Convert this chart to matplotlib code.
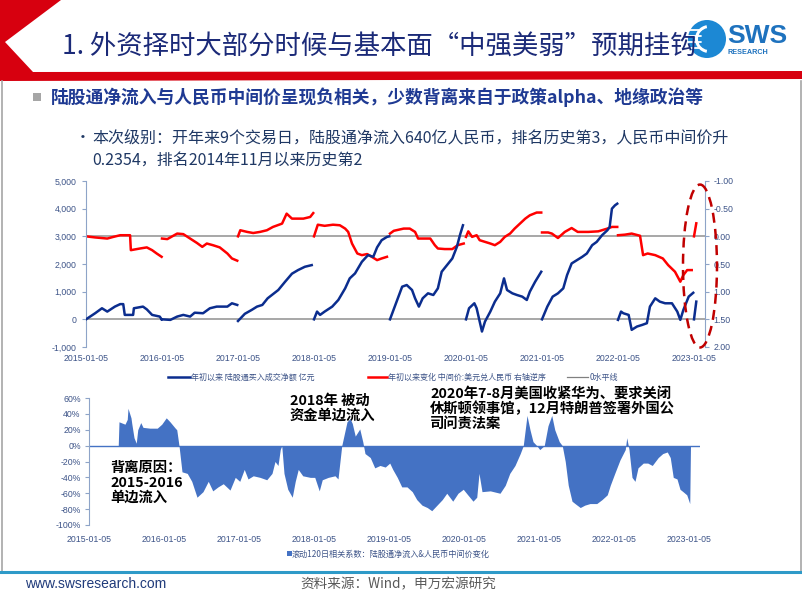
import numpy as np
import matplotlib
matplotlib.use('Agg')
import matplotlib.pyplot as plt
from matplotlib.patches import Polygon, Ellipse, Rectangle, Circle, Wedge

plt.rcParams['font.family'] = ['Noto Sans CJK SC', 'DejaVu Sans']

nan = np.nan
# ---------------- data (time as decimal year) ----------------
# YTD northbound (陆股通) net buy, 亿元 ; NaN separates calendar years
flow_t = [2015.00, 2015.12, 2015.21, 2015.28, 2015.38, 2015.45, 2015.49, 2015.51, 2015.62, 2015.63, 2015.75, 2015.80, 2015.87, 2015.97, 2015.995, nan,
          2016.00, 2016.11, 2016.20, 2016.28, 2016.37, 2016.43, 2016.54, 2016.63, 2016.72, 2016.86, 2016.92, 2016.99, nan,
          2017.00, 2017.09, 2017.18, 2017.25, 2017.32, 2017.39, 2017.53, 2017.62, 2017.71, 2017.79, 2017.88, 2017.97, nan,
          2018.00, 2018.04, 2018.08, 2018.14, 2018.24, 2018.32, 2018.41, 2018.47, 2018.54, 2018.63, 2018.71, 2018.78, 2018.83, 2018.89, 2018.96, 2018.99, nan,
          2019.00, 2019.07, 2019.16, 2019.22, 2019.29, 2019.33, 2019.38, 2019.43, 2019.50, 2019.57, 2019.63, 2019.68, 2019.75, 2019.82, 2019.88, 2019.92, 2019.96, nan,
          2020.00, 2020.04, 2020.11, 2020.14, 2020.16, 2020.21, 2020.25, 2020.32, 2020.38, 2020.45, 2020.50, 2020.54, 2020.61, 2020.67, 2020.74, 2020.80, 2020.84, 2020.91, 2020.99, nan,
          2021.00, 2021.07, 2021.14, 2021.21, 2021.28, 2021.33, 2021.39, 2021.46, 2021.53, 2021.59, 2021.66, 2021.72, 2021.79, 2021.86, 2021.89, 2021.92, 2021.96, 2021.99, nan,
          2022.00, 2022.04, 2022.07, 2022.14, 2022.18, 2022.25, 2022.32, 2022.38, 2022.42, 2022.49, 2022.55, 2022.62, 2022.71, 2022.78, 2022.82, 2022.86, 2022.93, 2022.99, nan,
          2023.00, 2023.03]
flow_v = [0, 220, 400, 280, 460, 550, 550, 160, 160, 400, 460, 360, 160, 100, 0, nan,
          0, -20, 100, 160, 100, 240, 220, 400, 460, 460, 580, 520, nan,
          -60, 200, 340, 460, 520, 760, 1060, 1360, 1650, 1780, 1900, 1960, nan,
          0, 280, 160, 280, 460, 700, 1120, 1480, 1660, 2080, 2320, 2260, 2600, 2860, 2980, 3000, nan,
          0, 520, 1180, 1240, 1060, 760, 460, 760, 940, 880, 1120, 1720, 1960, 2200, 2620, 3040, 3400, nan,
          0, 400, 580, 400, 160, -440, -80, 280, 640, 940, 1480, 1060, 940, 880, 820, 700, 1000, 1360, 1720, nan,
          0, 460, 820, 940, 1120, 1600, 2020, 2140, 2260, 2380, 2680, 2800, 3040, 3220, 3340, 4000, 4120, 4180, nan,
          -20, 280, 220, 160, -380, -260, -200, -140, 460, 760, 640, 580, 580, 280, -20, 340, 820, 960, nan,
          0, 640]

# YTD change of USD/CNY central parity (right axis, reversed)
cny_t = [2015.00, 2015.12, 2015.28, 2015.36, 2015.45, 2015.58, 2015.59, 2015.71, 2015.80, 2015.87, 2015.93, 2015.995, nan,
         2016.00, 2016.07, 2016.20, 2016.28, 2016.37, 2016.46, 2016.53, 2016.59, 2016.67, 2016.76, 2016.86, 2016.92, 2016.99, nan,
         2017.00, 2017.03, 2017.12, 2017.20, 2017.29, 2017.38, 2017.46, 2017.58, 2017.64, 2017.71, 2017.78, 2017.86, 2017.95, 2017.99, nan,
         2018.00, 2018.05, 2018.14, 2018.25, 2018.34, 2018.41, 2018.45, 2018.50, 2018.57, 2018.63, 2018.70, 2018.76, 2018.83, 2018.89, 2018.96, nan,
         2019.00, 2019.05, 2019.18, 2019.26, 2019.33, 2019.37, 2019.53, 2019.59, 2019.63, 2019.72, 2019.82, 2019.86, 2019.89, 2019.97, nan,
         2020.00, 2020.03, 2020.08, 2020.14, 2020.18, 2020.25, 2020.32, 2020.38, 2020.45, 2020.51, 2020.58, 2020.64, 2020.71, 2020.78, 2020.84, 2020.93, 2020.99, nan,
         2021.00, 2021.08, 2021.13, 2021.21, 2021.30, 2021.39, 2021.47, 2021.61, 2021.74, 2021.86, 2021.92, 2021.99, nan,
         2022.00, 2022.09, 2022.18, 2022.29, 2022.33, 2022.39, 2022.49, 2022.59, 2022.66, 2022.75, 2022.82, 2022.86, 2022.91, 2022.97, nan,
         2023.00, 2023.03]
cny_v = [0, 0.02, 0.04, 0.01, -0.02, -0.02, 0.25, 0.22, 0.20, 0.25, 0.31, 0.37, nan,
         0.04, 0.05, -0.05, -0.04, 0.04, 0.12, 0.19, 0.13, 0.16, 0.20, 0.31, 0.40, 0.44, nan,
         0.0, -0.11, -0.08, -0.06, -0.08, -0.11, -0.17, -0.23, -0.41, -0.32, -0.32, -0.32, -0.35, -0.42, nan,
         0.0, -0.21, -0.19, -0.21, -0.20, -0.14, -0.08, 0.13, 0.31, 0.34, 0.32, 0.37, 0.43, 0.40, 0.37, nan,
         -0.05, -0.10, -0.14, -0.14, -0.08, 0.04, 0.04, 0.16, 0.22, 0.23, 0.23, 0.19, 0.16, 0.13, nan,
         0.01, -0.09, 0.01, -0.02, 0.07, 0.10, 0.13, 0.16, 0.10, 0.01, -0.05, -0.14, -0.23, -0.32, -0.38, -0.43, -0.43, nan,
         -0.07, -0.07, -0.05, 0.03, -0.08, -0.15, -0.08, -0.08, -0.09, -0.14, -0.17, -0.17, nan,
         -0.02, -0.03, -0.05, -0.01, 0.34, 0.31, 0.34, 0.40, 0.52, 0.64, 0.82, 0.70, 0.61, 0.61, nan,
         0.0, -0.2354]

# rolling 120-day correlation (%)
corr_t = [2015.00, 2015.39, 2015.40, 2015.48, 2015.51, 2015.52, 2015.56, 2015.57, 2015.60, 2015.63, 2015.65, 2015.69, 2015.72, 2015.81, 2015.91, 2015.97,
          2016.03, 2016.08, 2016.15, 2016.17, 2016.20, 2016.24, 2016.31, 2016.37, 2016.44, 2016.52, 2016.59, 2016.65, 2016.72, 2016.79, 2016.88, 2016.95,
          2017.01, 2017.07, 2017.12, 2017.19, 2017.28, 2017.37, 2017.44, 2017.48, 2017.52, 2017.55, 2017.57, 2017.60, 2017.65, 2017.71, 2017.75, 2017.79, 2017.85, 2017.95,
          2018.01, 2018.07, 2018.11, 2018.19, 2018.28, 2018.32, 2018.37, 2018.44, 2018.48, 2018.51, 2018.55, 2018.61, 2018.65, 2018.68, 2018.75, 2018.81, 2018.88, 2018.95,
          2019.01, 2019.05, 2019.11, 2019.17, 2019.24, 2019.31, 2019.37, 2019.44, 2019.51, 2019.57, 2019.64, 2019.71, 2019.77, 2019.81, 2019.85, 2019.92, 2019.99,
          2020.05, 2020.12, 2020.17, 2020.20, 2020.24, 2020.35, 2020.48, 2020.55, 2020.61, 2020.68, 2020.75, 2020.79, 2020.84, 2020.88, 2020.92, 2020.97,
          2021.01, 2021.07, 2021.12, 2021.17, 2021.21, 2021.27, 2021.31, 2021.35, 2021.39, 2021.44, 2021.48, 2021.55, 2021.61, 2021.68, 2021.77, 2021.84, 2021.91, 2021.95,
          2022.01, 2022.08, 2022.15, 2022.17, 2022.20, 2022.24, 2022.28, 2022.32, 2022.39, 2022.45, 2022.51, 2022.59, 2022.65, 2022.71, 2022.75, 2022.79, 2022.84, 2022.88, 2022.92, 2022.97,
          2023.01, 2023.02, 2023.147]
corr_v = [0, 0, 30, 27, 33, 47, 35, 28, 10, 3, 20, 29, 23, 22, 22, 27,
          35, 30, 22, 20, 0, -33, -35, -45, -65, -58, -45, -57, -52, -48, -56, -40,
          -45, -30, -42, -38, -40, -43, -35, -20, -25, -5, 0, -35, -55, -65, -45, -30, -38, -40,
          -40, -57, -43, -40, -38, -42, 0, 30, 34, 28, 12, 21, 5, -10, -15, -28, -25, -27,
          -22, -30, -40, -52, -52, -58, -68, -75, -78, -82, -75, -68, -60, -65, -70, -60, -55,
          -62, -70, -65, -35, -58, -57, -60, -50, -35, -25, -10, 0, 38, 20, 5, 0,
          -5, 0, 25, 38, 20, 5, 0, -20, -50, -70, -73, -78, -75, -73, -73, -68, -62, -50,
          -35, -18, -5, 10, -5, -40, -45, -28, -22, -22, -25, -15, -10, -8, -15, -40, -42, -55, -58, -62,
          -73, 0, 0]

years = list(range(2015, 2024))
year_labels = [f"{y}-01-05" for y in years]
left_ticks = [-1000, 0, 1000, 2000, 3000, 4000, 5000]
right_ticks = [-1.0, -0.5, 0.0, 0.5, 1.0, 1.5, 2.0]
corr_ticks = [-100, -80, -60, -40, -20, 0, 20, 40, 60]

W, H = 802, 602
fig = plt.figure(figsize=(W / 100, H / 100), dpi=100)
fig.patch.set_facecolor('white')

# --- decoration layer in pixel coordinates ---
deco = fig.add_axes([0, 0, 1, 1], zorder=-5)
deco.set_xlim(0, W)
deco.set_ylim(H, 0)
deco.axis('off')

red = '#D7000F'
deco.add_patch(Polygon([(0, 0), (61, 0), (5, 42), (33, 72), (802, 71), (802, 79), (0, 81)],
                       closed=True, facecolor=red, edgecolor='none'))
# slide side borders and footer line
deco.plot([1.5, 1.5], [81, 572], color='#A6A6A6', lw=1.2)
deco.plot([800.5, 800.5], [81, 572], color='#A6A6A6', lw=1.2)
deco.plot([0, 802], [572, 572], color='#2E9AC8', lw=2.2)

# logo
deco.add_patch(Circle((707, 39), 19, facecolor='#1C88D4', edgecolor='none'))
deco.add_patch(Wedge((709, 39), 14, 100, 260, width=3, facecolor='white', edgecolor='none'))
for yy, x0, ln in [(30, 689, 12), (36, 687, 14), (42, 687, 14), (48, 689, 12)]:
    deco.plot([x0, x0 + ln], [yy, yy], color='white', lw=1.3, solid_capstyle='round')
deco.text(727, 36, 'SWS', family=['Liberation Sans', 'DejaVu Sans'], fontweight='bold',
          fontsize=19, color='#1E72BE', va='center', ha='left')
deco.text(728, 53, 'RESEARCH', family=['Liberation Sans', 'DejaVu Sans'], fontweight='bold',
          fontsize=5.2, color='#1E72BE', va='center', ha='left')

# titles
deco.text(62, 47, '1. 外资择时大部分时候与基本面“中强美弱”预期挂钩', fontsize=19,
          color='#1B2A78', va='center', ha='left', zorder=3)
deco.add_patch(Rectangle((33, 93), 8, 8, facecolor='#A6A6A6', edgecolor='none'))
deco.text(51, 97, '陆股通净流入与人民币中间价呈现负相关，少数背离来自于政策alpha、地缘政治等',
          fontsize=12.8, fontweight='bold', color='#1F3A93', va='center', ha='left')
deco.text(75, 138, '•', fontsize=11.5, color='#1F3864', va='center', ha='left')
deco.text(92, 138, '本次级别：开年来9个交易日，陆股通净流入640亿人民币，排名历史第3，人民币中间价升',
          fontsize=11.5, color='#1F3864', va='center', ha='left')
deco.text(92, 160, '0.2354，排名2014年11月以来历史第2',
          fontsize=11.5, color='#1F3864', va='center', ha='left')

# footer
deco.text(25, 584, 'www.swsresearch.com', family=['Liberation Sans', 'DejaVu Sans'], fontsize=10,
          color='#1F3A7A', va='center', ha='left')
deco.text(300, 584, '资料来源：Wind，申万宏源研究', fontsize=9.8, color='#595959',
          va='center', ha='left')

tick_col = '#3D5488'
spine_col = '#8EA4C8'
num_font = ['Liberation Sans', 'DejaVu Sans']

# ---------------- top chart ----------------
ax1 = fig.add_axes([86 / W, 1 - 347 / H, 619 / W, 166 / H])
ax1.set_facecolor('none')
ax1.set_xlim(2015, 2015 + 619 / 76)
ax1.set_ylim(-1000, 5000)
axr = ax1.twinx()
axr.set_ylim(2.0, -1.0)

ax1.axhline(0, color='#A0A0A0', lw=1.3, zorder=1)
axr.axhline(0, color='#A0A0A0', lw=1.3, zorder=1)
axr.plot(cny_t, cny_v, color='#FF0000', lw=1.8, zorder=3)
ax1.plot(flow_t, flow_v, color='#0B2D8E', lw=1.8, zorder=4)
ax1.set_zorder(axr.get_zorder() + 1)

for a in (ax1, axr):
    for s in ('top', 'bottom'):
        a.spines[s].set_visible(False)
ax1.spines['right'].set_visible(False)
axr.spines['left'].set_visible(False)
ax1.spines['left'].set_color(spine_col)
axr.spines['right'].set_color(spine_col)

ax1.set_yticks(left_ticks)
ax1.set_yticklabels([f"{v:,}" for v in left_ticks], family=num_font)
axr.set_yticks(right_ticks)
axr.set_yticklabels([f"{v:.2f}" for v in right_ticks], family=num_font)
ax1.set_xticks(years)
ax1.set_xticklabels(year_labels, family=num_font)
ax1.tick_params(axis='y', labelsize=6.3, colors=tick_col, length=3, color=spine_col, pad=4)
axr.tick_params(axis='y', labelsize=6.3, colors=tick_col, length=3, color=spine_col, pad=3)
ax1.tick_params(axis='x', labelsize=6.3, colors=tick_col, length=0, pad=5)

# legend (top)
def leg_line(x0, x1, y, color, lw):
    deco.plot([x0, x1], [y, y], color=color, lw=lw)

leg_line(168, 190, 377, '#0B2D8E', 1.8)
deco.text(191, 377, '年初以来 陆股通买入成交净额 亿元', fontsize=5.8, color=tick_col, va='center', ha='left')
leg_line(368, 387, 377, '#FF0000', 1.8)
deco.text(388, 377, '年初以来变化 中间价:美元兑人民币 右轴逆序', fontsize=5.8, color=tick_col, va='center', ha='left')
leg_line(567, 588, 377, '#808080', 0.9)
deco.text(590, 377, '0水平线', fontsize=5.8, color=tick_col, va='center', ha='left')

# dashed ellipse highlight
ell = Ellipse((700, 266), 34, 163, fill=False, edgecolor='#C00000', lw=1.8,
              linestyle=(0, (4, 2.5)), transform=deco.transData, zorder=20)
fig.add_artist(ell)

# ---------------- bottom chart ----------------
ax2 = fig.add_axes([89 / W, 1 - 525 / H, 611 / W, 127 / H])
ax2.set_facecolor('none')
ax2.set_xlim(2015, 2015 + 611 / 75)
ax2.set_ylim(-100, 60)
ax2.fill_between(corr_t, corr_v, 0, color='#4472C4', lw=0)
ax2.axhline(0, color='#4472C4', lw=1.0)
for s in ('top', 'bottom', 'right'):
    ax2.spines[s].set_visible(False)
ax2.spines['left'].set_color(spine_col)
ax2.set_yticks(corr_ticks)
ax2.set_yticklabels([f"{v}%" for v in corr_ticks], family=num_font)
ax2.set_xticks(years)
ax2.set_xticklabels(year_labels, family=num_font)
ax2.tick_params(axis='y', labelsize=6.3, colors=tick_col, length=3, color=spine_col, pad=3)
ax2.tick_params(axis='x', labelsize=6.3, colors=tick_col, length=0, pad=7)

deco.add_patch(Rectangle((287, 551), 4.5, 4.5, facecolor='#4472C4', edgecolor='none'))
deco.text(292, 554, '滚动120日相关系数：陆股通净流入&人民币中间价变化', fontsize=5.9,
          color=tick_col, va='center', ha='left')

ann_kw = dict(fontsize=10.3, fontweight='bold', color='black', va='center', ha='left',
              linespacing=1.05)
deco.text(110, 483, '背离原因：\n2015-2016\n单边流入', zorder=30, **ann_kw)
deco.text(290, 408, '2018年 被动\n资金单边流入', zorder=30, **ann_kw)
deco.text(430, 409, '2020年7-8月美国收紧华为、要求关闭\n休斯顿领事馆，12月特朗普签署外国公\n司问责法案',
          zorder=30, **ann_kw)

fig.savefig('out.png', dpi=100, facecolor='white')
